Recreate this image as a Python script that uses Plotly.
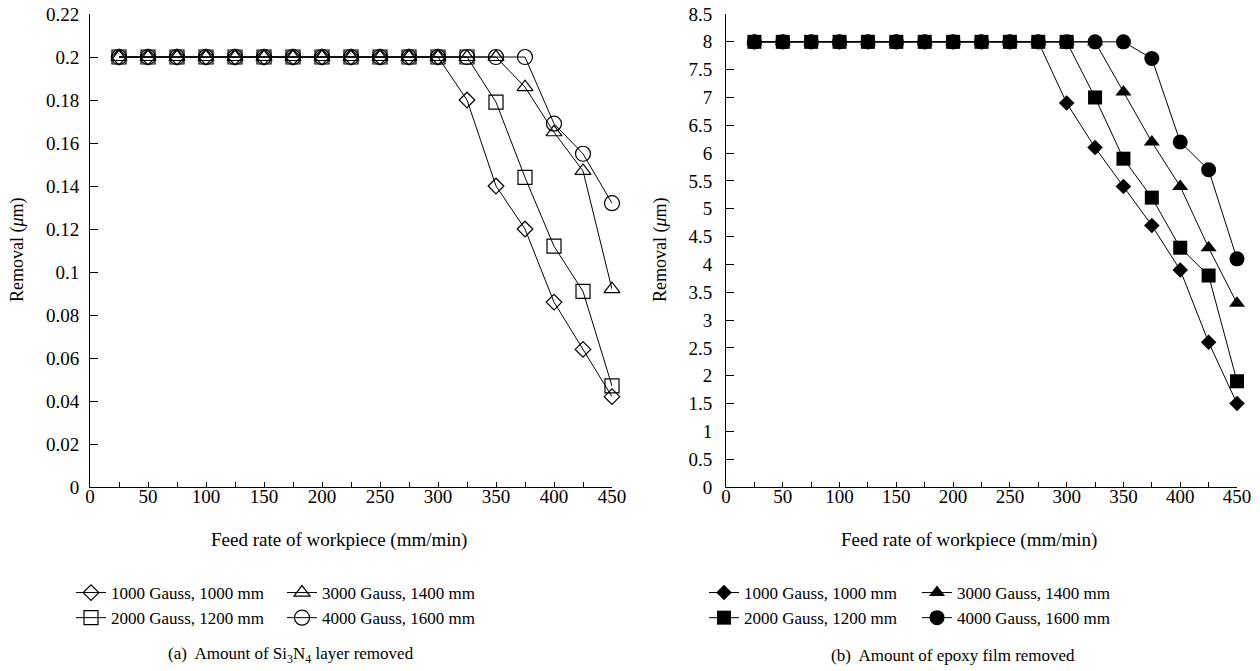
import plotly.graph_objects as go

# ---------------- data ----------------
feed = [25, 50, 75, 100, 125, 150, 175, 200, 225, 250, 275, 300, 325, 350, 375, 400, 425, 450]

labels = ["1000 Gauss, 1000 mm", "2000 Gauss, 1200 mm", "3000 Gauss, 1400 mm", "4000 Gauss, 1600 mm"]

# (a) Si3N4 layer removed (um)
si_1000 = [0.2]*11 + [0.2, 0.18, 0.14, 0.12, 0.086, 0.064, 0.042]
si_2000 = [0.2]*11 + [0.2, 0.2, 0.179, 0.144, 0.112, 0.091, 0.047]
si_3000 = [0.2]*11 + [0.2, 0.2, 0.2, 0.186, 0.165, 0.147, 0.092]
si_4000 = [0.2]*11 + [0.2, 0.2, 0.2, 0.2, 0.169, 0.155, 0.132]

# (b) epoxy film removed (um)
ep_1000 = [8]*11 + [6.9, 6.1, 5.4, 4.7, 3.9, 2.6, 1.5]
ep_2000 = [8]*11 + [8, 7.0, 5.9, 5.2, 4.3, 3.8, 1.9]
ep_3000 = [8]*11 + [8, 8, 7.1, 6.2, 5.4, 4.3, 3.3]
ep_4000 = [8]*11 + [8, 8, 8, 7.7, 6.2, 5.7, 4.1]

W, H = 1260, 671
OFF = 0  # page body margin removed below
FONT = "Liberation Serif, Times New Roman, DejaVu Serif, serif"

def px_x(v):
    return (v - OFF) / W

def px_y(v):
    return (H - (v - OFF)) / H

fig = go.Figure()

open_syms = ["diamond-open", "square-open", "triangle-up-open", "circle-open"]
fill_syms = ["diamond", "square", "triangle-up", "circle"]
sizes = [12, 14, 14, 15]

left_series = [si_1000, si_2000, si_3000, si_4000]
right_series = [ep_1000, ep_2000, ep_3000, ep_4000]

left_legends = ["legend", "legend", "legend2", "legend2"]
right_legends = ["legend3", "legend3", "legend4", "legend4"]

for i, ys in enumerate(left_series):
    fig.add_trace(go.Scatter(
        x=feed, y=ys, mode="lines+markers", name=labels[i],
        line=dict(color="black", width=1),
        marker=dict(symbol=open_syms[i], size=sizes[i], color="black",
                    line=dict(color="black", width=1.2)),
        xaxis="x", yaxis="y", cliponaxis=False,
        legend=left_legends[i], legendgroup="a%d" % i,
    ))

for i, ys in enumerate(right_series):
    fig.add_trace(go.Scatter(
        x=feed, y=ys, mode="lines+markers", name=labels[i],
        line=dict(color="black", width=1),
        marker=dict(symbol=fill_syms[i], size=sizes[i], color="black",
                    line=dict(color="black", width=0)),
        xaxis="x2", yaxis="y2", cliponaxis=False,
        legend=right_legends[i], legendgroup="b%d" % i,
    ))

ydom = [px_y(487), px_y(14)]

axis_common = dict(
    showline=True, linecolor="black", linewidth=1, showgrid=False, zeroline=False,
    ticks="inside", tickcolor="black", tickwidth=1, automargin=False,
    ticklabeloverflow="allow",
    tickfont=dict(family=FONT, size=19, color="black"),
)

fig.update_layout(
    width=W, height=H,
    margin=dict(l=0, r=0, t=0, b=0, autoexpand=False),
    paper_bgcolor="white", plot_bgcolor="white",
    font=dict(family=FONT, size=18, color="black"),
    showlegend=True,
    xaxis=dict(domain=[px_x(90), px_x(612)], range=[0, 450], tick0=0, dtick=50,
               ticklen=5, anchor="y", ticklabelstandoff=-8,
               minor=dict(dtick=25, ticks="inside", ticklen=5, tickcolor="black", showgrid=False),
               **axis_common),
    yaxis=dict(domain=ydom, range=[0, 0.22001], tick0=0, dtick=0.02, ticklen=8,
               anchor="x", ticklabelstandoff=6, **axis_common),
    xaxis2=dict(domain=[px_x(726), px_x(1237)], range=[0, 450], tick0=0, dtick=50,
                ticklen=5, anchor="y2", ticklabelstandoff=-8,
                minor=dict(dtick=25, ticks="inside", ticklen=5, tickcolor="black", showgrid=False),
                **axis_common),
    yaxis2=dict(domain=ydom, range=[0, 8.5001], tick0=0, dtick=0.5, ticklen=8,
                anchor="x2", ticklabelstandoff=9, **axis_common),
)

leg_common = dict(orientation="v", xanchor="left", yanchor="top",
                  bgcolor="rgba(0,0,0,0)", borderwidth=0, tracegroupgap=0,
                  font=dict(family=FONT, size=17, color="black"))
leg_top = px_y(575)
fig.update_layout(
    legend=dict(x=px_x(71), y=leg_top, **leg_common),
    legend2=dict(x=px_x(282), y=leg_top, **leg_common),
    legend3=dict(x=px_x(704), y=leg_top, **leg_common),
    legend4=dict(x=px_x(917), y=leg_top, **leg_common),
)

ann = []
# axis titles
for cx in (339, 969):
    ann.append(dict(text="Feed rate of workpiece (mm/min)", x=px_x(cx), y=px_y(540),
                    xref="paper", yref="paper", showarrow=False, xanchor="center", yanchor="middle",
                    font=dict(family=FONT, size=19, color="black")))
for cx in (18, 661):
    ann.append(dict(text="Removal (<i>μ</i>m)", x=px_x(cx), y=px_y(250), textangle=-90,
                    xref="paper", yref="paper", showarrow=False, xanchor="center", yanchor="middle",
                    font=dict(family=FONT, size=18, color="black")))
# captions
ann.append(dict(text="(a)  Amount of Si<sub>3</sub>N<sub>4</sub> layer removed", x=px_x(291), y=px_y(655),
                xref="paper", yref="paper", showarrow=False, xanchor="center", yanchor="middle",
                font=dict(family=FONT, size=17, color="black")))
ann.append(dict(text="(b)  Amount of epoxy film removed", x=px_x(953), y=px_y(655),
                xref="paper", yref="paper", showarrow=False, xanchor="center", yanchor="middle",
                font=dict(family=FONT, size=17, color="black")))
fig.update_layout(annotations=ann)

fig.write_html("out.html", config={"displayModeBar": False},
               post_script="document.body.style.margin='0px';")
